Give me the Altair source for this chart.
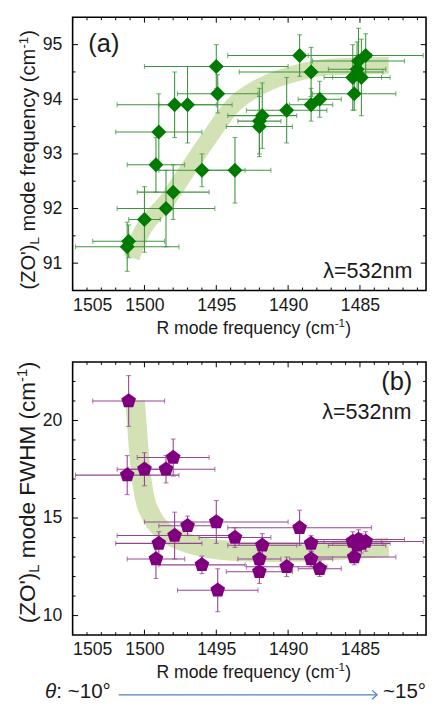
import altair as alt
import pandas as pd

# ---------------- data ----------------
r_freq = [1501.2, 1501.1, 1500.0, 1498.5, 1498.0, 1499.2, 1499.0, 1496.0, 1493.7,
          1497.9, 1497.0, 1494.9, 1495.0, 1491.8, 1492.0, 1492.0, 1490.1, 1489.2,
          1488.4, 1488.4, 1487.8, 1485.4, 1485.5, 1484.9, 1485.2, 1485.1, 1484.6]
r_err = [3.6, 2.5, 1.1, 3.4, 2.5, 2.0, 3.0, 3.0, 2.5,
         4.0, 2.0, 2.8, 5.0, 2.4, 1.5, 2.3, 2.8, 5.0,
         5.0, 1.5, 1.5, 2.9, 2.0, 2.0, 2.0, 3.2, 4.0]
zo_freq = [91.3, 91.4, 91.8, 92.0, 92.3, 92.8, 93.4, 92.7, 92.7,
           93.9, 93.9, 94.1, 94.6, 93.7, 93.6, 93.5, 93.8, 94.8,
           94.5, 93.9, 94.0, 94.1, 94.4, 94.4, 94.55, 94.7, 94.8]
zo_freq_err = [0.45, 0.3, 0.6, 0.7, 0.5, 0.5, 0.7, 0.3, 0.6,
               0.6, 0.7, 0.35, 0.4, 0.6, 0.6, 0.55, 0.6, 0.38,
               0.45, 0.3, 0.33, 0.3, 0.6, 0.7, 0.5, 0.6, 0.4]
zo_fwhm = [17.2, 21.0, 17.5, 17.5, 18.1, 12.9, 13.7, 12.6, 14.0,
           14.1, 14.6, 11.3, 14.8, 13.6, 12.9, 12.25, 12.5, 14.5,
           13.7, 12.9, 12.4, 13.0, 13.8, 13.7, 13.6, 13.9, 13.8]
zo_fwhm_err = [1.0, 1.3, 0.85, 0.7, 0.95, 1.0, 0.6, 0.45, 0.5,
               1.2, 0.5, 1.1, 1.1, 0.6, 0.6, 0.6, 0.5, 0.9,
               0.4, 0.4, 0.4, 0.4, 0.5, 0.5, 0.5, 0.5, 0.5]

# guide-to-the-eye bands
band_a_x = [1500.9, 1500.75, 1498.25, 1495.5, 1493.9, 1491.9, 1489.4, 1487.1, 1483.0]
band_a_y = [91.1, 91.22, 92.21, 93.29, 93.87, 94.24, 94.48, 94.59, 94.62]
band_b_x = [1500.65, 1500.45, 1500.25, 1500.0, 1499.5, 1498.7, 1497.3, 1495.5, 1493.5,
            1491.0, 1488.0, 1485.5, 1483.0]
band_b_y = [21.0, 19.0, 17.3, 16.1, 15.1, 14.35, 13.8, 13.45, 13.3,
            13.25, 13.3, 13.4, 13.5]

x_major = [1505, 1500, 1495, 1490, 1485]
x_minor = [v for v in range(1481, 1505) if v % 5 != 0]
ya_major = [91, 92, 93, 94, 95]
ya_minor = [91.5, 92.5, 93.5, 94.5]
yb_major = [10, 15, 20]
yb_minor = [v for v in range(10, 23) if v % 5 != 0]

# ---------------- style ----------------
FONT = "Liberation Sans"
W, HA, HB = 361, 279, 279
GREEN = "#007a00"
GREEN_BAR = "#3f943f"
PURPLE = "#7f007f"
PURPLE_BAR = "#944494"
BAND = "#d3e2b4"
TXT = "#1a1a1a"
ARROW = "#4f81bd"
PENTAGON = "M0,-1L0.951,-0.309L0.588,0.809L-0.588,0.809L-0.951,-0.309Z"

AW = {' ': 278, '(': 333, ')': 333, "'": 191, '-': 333, 'R': 722, 'Z': 611, 'O': 778,
      'L': 556, 'F': 611, 'W': 944, 'H': 722, 'M': 833, 'm': 833, 'o': 556, 'd': 556,
      'e': 556, 'f': 278, 'r': 333, 'q': 556, 'u': 556, 'n': 556, 'c': 500, 'y': 500,
      ':': 278, '~': 584, '°': 400, '=': 584, 'λ': 500}


def tw(s, size):
    return sum(AW.get(ch, 556) for ch in s) * size / 1000.0


def text_layer(txt, x, y, size, angle=0, align="left", baseline="alphabetic",
               italic=False, color=TXT):
    return alt.Chart(pd.DataFrame({"t": [txt]})).mark_text(
        align=align, baseline=baseline, fontSize=size, font=FONT, angle=angle,
        color=color, fontStyle="italic" if italic else "normal"
    ).encode(text="t:N", x=alt.value(x), y=alt.value(y))


def vtitle(pieces, y_start, x_base):
    layers, y = [], y_start
    for txt, size, dx in pieces:
        lead = len(txt) - len(txt.lstrip())
        y -= tw(" " * lead, size)
        s = txt.strip()
        layers.append(text_layer(s, x_base + dx, y, size, angle=270))
        y -= tw(s, size)
    return layers


def htitle(pieces, x_center, y_base):
    total = sum(tw(t, s) for t, s, _ in pieces)
    x, layers = x_center - total / 2, []
    for txt, size, dy in pieces:
        lead = len(txt) - len(txt.lstrip())
        x += tw(" " * lead, size)
        s = txt.strip()
        layers.append(text_layer(s, x, y_base + dy, size))
        x += tw(s, size)
    return layers


xs = alt.Scale(domain=[1480.4, 1505], reverse=True, nice=False, zero=False)
ax_x = alt.Axis(values=x_major, format="d", title=None, ticks=False, tickSize=0,
                domain=False, grid=False, labelFont=FONT, labelFontSize=18,
                labelColor=TXT, labelPadding=6)


def yaxis(values):
    return alt.Axis(values=values, format="d", title=None, ticks=False, tickSize=0,
                    domain=False, grid=False, labelFont=FONT, labelFontSize=18,
                    labelColor=TXT, labelPadding=11)


def make_panel(yvals, yerr, yscale, ymajor, yminor, H, band_x, band_y, band_w,
               shape, msize, mcolor, bcolor, ytitle, ytitle_start, labels):
    yax = yaxis(ymajor)

    def X(f):
        return alt.X(f"{f}:Q", scale=xs, axis=ax_x)

    def Y(f):
        return alt.Y(f"{f}:Q", scale=yscale, axis=yax)

    df = pd.DataFrame({"r": r_freq, "v": yvals, "re": r_err, "ve": yerr})
    df["xlo"] = df["r"] - df["re"]
    df["xhi"] = df["r"] + df["re"]
    df["ylo"] = df["v"] - df["ve"]
    df["yhi"] = df["v"] + df["ve"]
    xcaps = pd.DataFrame({"cx": list(df["xlo"]) + list(df["xhi"]),
                          "cy": list(df["v"]) * 2})
    ycaps = pd.DataFrame({"cx": list(df["r"]) * 2,
                          "cy": list(df["ylo"]) + list(df["yhi"])})
    bdf = pd.DataFrame({"bx": band_x, "by": band_y, "i": list(range(len(band_x)))})

    layers = []
    layers.append(alt.Chart(bdf).mark_line(
        color=BAND, strokeWidth=band_w, strokeCap="butt", strokeJoin="round",
        interpolate="monotone").encode(x=X("bx"), y=Y("by"), order="i:Q"))
    layers.append(alt.Chart(df).mark_rule(color=bcolor, strokeWidth=1.1).encode(
        x=X("xlo"), x2="xhi", y=Y("v")))
    layers.append(alt.Chart(df).mark_rule(color=bcolor, strokeWidth=1.1).encode(
        x=X("r"), y=Y("ylo"), y2="yhi"))
    layers.append(alt.Chart(xcaps).mark_tick(
        color=bcolor, orient="vertical", size=5, thickness=1.1).encode(
        x=X("cx"), y=Y("cy")))
    layers.append(alt.Chart(ycaps).mark_tick(
        color=bcolor, orient="horizontal", size=5, thickness=1.1).encode(
        x=X("cx"), y=Y("cy")))
    layers.append(alt.Chart(df).mark_point(
        shape=shape, filled=True, size=msize, color=mcolor, opacity=1,
        strokeWidth=0).encode(x=X("r"), y=Y("v")))

    # inward ticks on all four sides
    for vals, L in ((x_major, 5.5), (x_minor, 3)):
        tdf = pd.DataFrame({"t": vals})
        layers.append(alt.Chart(tdf).mark_rule(color="black", strokeWidth=1).encode(
            x=X("t"), y=alt.value(H), y2=alt.value(H - L)))
        layers.append(alt.Chart(tdf).mark_rule(color="black", strokeWidth=1).encode(
            x=X("t"), y=alt.value(0), y2=alt.value(L)))
    for vals, L in ((ymajor, 5.5), (yminor, 3)):
        tdf = pd.DataFrame({"t": vals})
        layers.append(alt.Chart(tdf).mark_rule(color="black", strokeWidth=1).encode(
            y=Y("t"), x=alt.value(0), x2=alt.value(L)))
        layers.append(alt.Chart(tdf).mark_rule(color="black", strokeWidth=1).encode(
            y=Y("t"), x=alt.value(W), x2=alt.value(W - L)))

    # axis titles with sub/superscripts
    layers += vtitle(ytitle, ytitle_start, -38)
    layers += htitle([("R mode frequency (cm", 18, 0), ("-1", 12, -7), (")", 18, 0)],
                     185, H + 44)
    layers += labels
    return alt.layer(*layers).properties(width=W, height=H)


labels_a = [
    text_layer("(a)", 16, 27, 26, baseline="middle"),
    text_layer("λ=532nm", 347, HA - 20, 22, align="right", baseline="middle"),
]
labels_b = [
    text_layer("(b)", 347, 21, 26, align="right", baseline="middle"),
    text_layer("λ=532nm", 346, 51, 22, align="right", baseline="middle"),
]

# theta annotation under panel (b)
AY = HB + 61
arrow = [
    alt.Chart(pd.DataFrame({"a": [0]})).mark_rule(color=ARROW, strokeWidth=1.3).encode(
        x=alt.value(47), x2=alt.value(310), y=alt.value(AY)),
    alt.Chart(pd.DataFrame({"a": [0]})).mark_point(
        shape="M-1,-0.9L0,0L-1,0.9", filled=False, size=100, color=ARROW,
        strokeWidth=1.3, opacity=1).encode(x=alt.value(311), y=alt.value(AY)),
    text_layer(": ~10°", 39, AY + 3, 21, align="right"),
    text_layer("θ", 39 - tw(": ~10°", 21), AY + 3, 21, align="right", italic=True),
    text_layer("~15°", 317, AY + 3, 21),
]

panel_a = make_panel(
    zo_freq, zo_freq_err, alt.Scale(domain=[90.5, 95.5], nice=False, zero=False),
    ya_major, ya_minor, HA, band_a_x, band_a_y, 17, "diamond", 235, GREEN, GREEN_BAR,
    [("(ZO')", 20.5, 0), ("L", 13.5, 4), (" mode frequency (cm", 20.5, 0),
     ("-1", 13.5, -8), (")", 20.5, 0)],
    HA - 1, labels_a)

panel_b = make_panel(
    zo_fwhm, zo_fwhm_err, alt.Scale(domain=[9, 23], nice=False, zero=False),
    yb_major, yb_minor, HB, band_b_x, band_b_y, 20, PENTAGON, 250, PURPLE, PURPLE_BAR,
    [("(ZO')", 23, 0), ("L", 15, 4), (" mode FWHM (cm", 23, 0),
     ("-1", 15, -9), (")", 23, 0)],
    HB - 12, labels_b + arrow)

chart = alt.vconcat(panel_a, panel_b, spacing=73, bounds="flush").configure_view(
    stroke="black", strokeWidth=1.6).properties(
    padding={"left": 6, "top": 0, "right": 0, "bottom": 0}, background="white")

chart.save("out.html", embed_options={"renderer": "svg", "actions": False})
